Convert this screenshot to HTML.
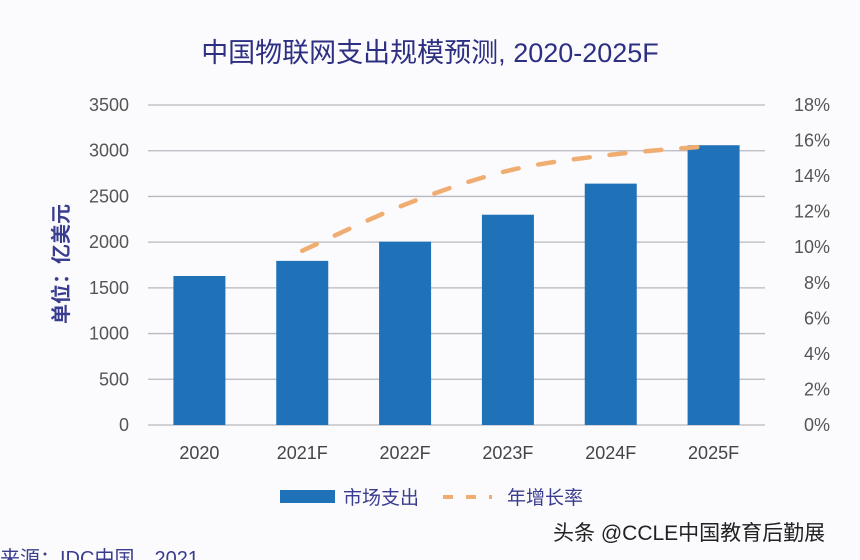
<!DOCTYPE html>
<html><head><meta charset="utf-8">
<style>
body{margin:0;background:#fff;}
svg{display:block;font-family:"Liberation Sans","Noto Sans CJK SC",sans-serif;}
</style></head>
<body>
<svg id="chart" width="860" height="560" viewBox="0 0 860 560">
<rect x="0" y="0" width="860" height="560" fill="#fbfbfd"/>
<text x="430" y="62" text-anchor="middle" font-size="27" fill="#2d3082">中国物联网支出规模预测, 2020-2025F</text>
<text transform="translate(68,264) rotate(-90)" text-anchor="middle" font-size="20" font-weight="bold" fill="#3a3d8f">单位：亿美元</text>
<g id="grid"></g><g id="bars"></g><g id="line"></g><g id="labels"></g>
<g>
<rect x="280" y="490" width="55" height="13" fill="#1f72b8"/>
<text x="343" y="504" font-size="19" fill="#3a3d8f">市场支出</text>
<line x1="443" y1="497" x2="492" y2="497" stroke="#f0ad72" stroke-width="4" stroke-dasharray="10,13"/>
<text x="507" y="504" font-size="19" fill="#3a3d8f">年增长率</text>
</g>
<text x="553" y="540" font-size="21" fill="#222">头条 @CCLE中国教育后勤展</text>
<text x="0" y="565" font-size="20" fill="#3a3d8f">来源：IDC中国，2021</text>
</svg>
<script>
const categories=["2020","2021F","2022F","2023F","2024F","2025F"];
const spending=[1630,1795,2005,2300,2640,3060];
const growth=[null,9.8,12.4,14.3,15.2,15.7];
const leftTicks=[0,500,1000,1500,2000,2500,3000,3500];
const rightTicks=[0,2,4,6,8,10,12,14,16,18];
const NS="http://www.w3.org/2000/svg";
const x0=148,x1=765,yb=425,yt=105;
const yL=v=>yb-(v/3500)*(yb-yt);
const yR=v=>yb-(v/18)*(yb-yt);
const band=(x1-x0)/categories.length;
const xc=i=>x0+band*(i+0.5);
function mk(t,a,p){const e=document.createElementNS(NS,t);for(const k in a)e.setAttribute(k,a[k]);document.getElementById(p).appendChild(e);return e;}
leftTicks.forEach(v=>{
 const l=mk('line',{x1:x0,x2:x1,y1:yL(v),y2:yL(v),stroke:'#b8b8c0','stroke-width':1.3},'grid');
 
 
 const t=mk('text',{x:129,y:yL(v)+6,'text-anchor':'end','font-size':18,fill:'#555'},'labels');
 t.textContent=v;
 
 
});
rightTicks.forEach(v=>{
 const t=mk('text',{x:830,y:yR(v)+6,'text-anchor':'end','font-size':18,fill:'#555'},'labels');
 t.textContent=v+'%';
 
 
});
categories.forEach((c,i)=>{
 const b=mk('rect',{x:xc(i)-26,y:yL(spending[i]),width:52,height:yb-yL(spending[i]),fill:'#1f72b8'},'bars');
 
 
 const t=mk('text',{x:xc(i),y:459,'text-anchor':'middle','font-size':18,fill:'#444'},'labels');
 t.textContent=c;
 
 
});
const pts=[];growth.forEach((g,i)=>{if(g!==null)pts.push([xc(i),yR(g)]);});
let d='M'+pts[0][0]+','+pts[0][1];
for(let i=0;i<pts.length-1;i++){
 const p0=pts[Math.max(i-1,0)],p1=pts[i],p2=pts[i+1],p3=pts[Math.min(i+2,pts.length-1)];
 const c1=[p1[0]+(p2[0]-p0[0])/6,p1[1]+(p2[1]-p0[1])/6],c2=[p2[0]-(p3[0]-p1[0])/6,p2[1]-(p3[1]-p1[1])/6];
 d+=` C${c1[0]},${c1[1]} ${c2[0]},${c2[1]} ${p2[0]},${p2[1]}`;
}
const ln=mk('path',{d:d,fill:'none',stroke:'#f0ad72','stroke-width':4.5,'stroke-dasharray':'16,20','stroke-linecap':'round'},'line');


</script>
</body></html>
